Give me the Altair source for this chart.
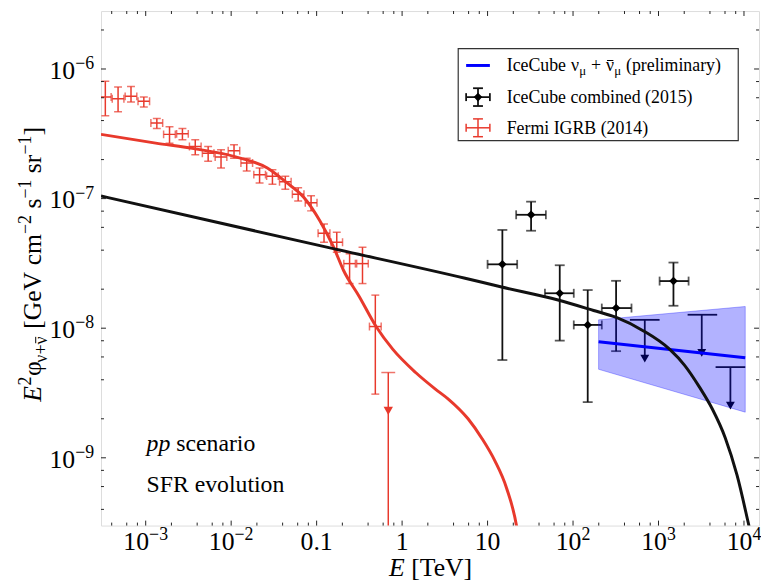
import altair as alt
import pandas as pd

# ---------------- data ----------------
# Fermi IGRB (2014)
fermi_e = [3.37e-4, 4.75e-4, 6.73e-4, 9.51e-4, 1.35e-3, 1.90e-3, 2.69e-3, 3.80e-3, 5.38e-3, 7.61e-3,
           1.08e-2, 1.52e-2, 2.15e-2, 3.04e-2, 4.30e-2, 6.08e-2, 8.61e-2, 0.122, 0.172, 0.243, 0.344, 0.486]
fermi_elo = [2.88e-4, 4.06e-4, 5.75e-4, 8.13e-4, 1.15e-3, 1.62e-3, 2.30e-3, 3.25e-3, 4.60e-3, 6.50e-3,
             9.23e-3, 1.30e-2, 1.84e-2, 2.60e-2, 3.68e-2, 5.20e-2, 7.36e-2, 0.104, 0.147, 0.208, 0.294, 0.415]
fermi_ehi = [3.94e-4, 5.56e-4, 7.87e-4, 1.11e-3, 1.58e-3, 2.22e-3, 3.15e-3, 4.45e-3, 6.29e-3, 8.90e-3,
             1.26e-2, 1.78e-2, 2.52e-2, 3.56e-2, 5.03e-2, 7.11e-2, 0.101, 0.143, 0.201, 0.284, 0.402, 0.569]
fermi_y = [6.08e-7, 5.90e-7, 6.15e-7, 5.64e-7, 3.83e-7, 3.13e-7, 3.16e-7, 2.52e-7, 2.24e-7, 2.09e-7,
           2.34e-7, 1.88e-7, 1.53e-7, 1.49e-7, 1.35e-7, 1.08e-7, 9.3e-8, 5.40e-8, 4.60e-8, 3.15e-8, 3.15e-8, 1.03e-8]
fermi_ylo = [4.35e-7, 4.67e-7, 5.57e-7, 5.09e-7, 3.48e-7, 2.67e-7, 2.84e-7, 2.18e-7, 1.94e-7, 1.72e-7,
             2.05e-7, 1.63e-7, 1.32e-7, 1.29e-7, 1.18e-7, 9.6e-8, 8.04e-8, 4.60e-8, 3.86e-8, 2.21e-8, 2.21e-8, 3.10e-9]
fermi_yhi = [8.05e-7, 7.25e-7, 7.34e-7, 6.08e-7, 4.15e-7, 3.59e-7, 3.48e-7, 2.84e-7, 2.52e-7, 2.38e-7,
             2.60e-7, 2.05e-7, 1.72e-7, 1.67e-7, 1.49e-7, 1.21e-7, 1.05e-7, 6.37e-8, 5.50e-8, 3.75e-8, 4.22e-8, 1.80e-8]
fermi_ul_e = [0.689]
fermi_ul_y = [4.55e-9]
fermi_ul_arrow = [2.3e-9]
fermi_ul_end = [1.0e-10]

# IceCube combined (2015)
ic_e = [14.9, 32.3, 69.9, 148.5, 319, 1496]
ic_elo = [10.0, 21.6, 46.9, 102, 217, 1030]
ic_ehi = [22.2, 48.1, 102, 217, 483, 2249]
ic_y = [3.11e-8, 7.50e-8, 1.86e-8, 1.06e-8, 1.43e-8, 2.31e-8]
ic_ylo = [5.68e-9, 5.65e-8, 8.02e-9, 2.69e-9, 6.65e-9, 1.49e-8]
ic_yhi = [5.73e-8, 9.47e-8, 3.06e-8, 1.97e-8, 2.32e-8, 3.21e-8]
ic_ul_e = [691, 3206, 6937]
ic_ul_elo = [463, 2190, 4655]
ic_ul_ehi = [1030, 4860, 10350]
ic_ul_y = [1.16e-8, 1.27e-8, 5.01e-9]
ic_ul_arrow = [5.82e-9, 6.46e-9, 2.53e-9]

# IceCube numu + numubar (preliminary)
nu_e = [199, 10350]
nu_lo = [4.82e-9, 2.25e-9]
nu_hi = [1.16e-8, 1.47e-8]
nu_best = [7.85e-9, 5.92e-9]

# model curves
red_e = [3.0e-4, 1.31e-3, 3.79e-3, 1.10e-2, 2.65e-2, 4.51e-2, 7.10e-2, 0.109, 0.158, 0.206, 0.316,
         0.496, 0.780, 1.44, 2.45, 3.47, 5.91, 8.59, 12.1, 16.7, 21.8, 23.0]
red_y = [3.13e-7, 2.68e-7, 2.42e-7, 2.11e-7, 1.72e-7, 1.32e-7, 1.02e-7, 6.75e-8, 4.22e-8, 2.80e-8, 1.75e-8,
         1.03e-8, 6.86e-9, 4.55e-9, 3.39e-9, 2.84e-9, 2.00e-9, 1.41e-9, 9.55e-10, 5.83e-10, 2.99e-10, 2.4e-10]
black_e = [3.0e-4, 0.131, 5.46, 14.6, 66.8, 174, 321, 660, 1355, 2022, 3016, 4263, 6030, 8297, 11430, 12000]
black_y = [1.047e-7, 4.22e-8, 2.43e-8, 2.08e-8, 1.65e-8, 1.37e-8, 1.21e-8, 9.57e-9, 6.86e-9, 5.17e-9,
           3.51e-9, 2.38e-9, 1.43e-9, 7.34e-10, 2.99e-10, 2.6e-10]

# tick labels
x_major = [1e-3, 1e-2, 1e-1, 1, 10, 1e2, 1e3, 1e4]
x_neg_vals, x_neg_exp = [1e-3, 1e-2], ["−3", "−2"]
x_pos_vals, x_pos_exp = [1e2, 1e3, 1e4], ["2", "3", "4"]
x_plain_vals, x_plain_lab = [0.1, 1, 10], ["0.1", "1", "10"]
y_major = [1e-9, 1e-8, 1e-7, 1e-6]
y_exp = ["−9", "−8", "−7", "−6"]

# ---------------- styling ----------------
W, H = 665, 520
X_DOMAIN = [3.0e-4, 1.5e4]
Y_DOMAIN = [3.0e-10, 2.8e-6]
FONT = "Liberation Serif"
RED = "#e8392c"
BLACK = "#111111"
BLUE = "#0000ff"
FRAME = "#222222"
FS, SS = 26, 18          # main / script font sizes for tick labels and titles

# approximate Times advance widths (em) for laying out rich text pieces
TW = {'I': .333, 'c': .444, 'e': .444, 'C': .667, 'u': .5, 'b': .5, 'o': .5, 'm': .778, 'i': .278,
      'n': .5, 'd': .5, '(': .333, ')': .333, 'F': .556, 'r': .333, 'G': .722, 'R': .667, 'B': .667,
      'p': .5, 'l': .278, 'a': .444, 'y': .5, '[': .333, ']': .333, 'V': .722, 'T': .611, 's': .389,
      'E': .611, ' ': .25, '+': .564, '−': .564, 'ν': .47, 'μ': .52, 'φ': .52, '.': .25}


def tw(s, size):
    return sum(TW.get(ch, .5) for ch in s) * size


xs = alt.Scale(type="log", domain=X_DOMAIN, nice=False)
ys = alt.Scale(type="log", domain=Y_DOMAIN, nice=False)


def X(f):
    return alt.X(f"{f}:Q", scale=xs, axis=None)


def Y(f):
    return alt.Y(f"{f}:Q", scale=ys, axis=None)


layers = []

# ---- Fermi points
fdf = pd.DataFrame({"e": fermi_e, "elo": fermi_elo, "ehi": fermi_ehi,
                    "y": fermi_y, "ylo": fermi_ylo, "yhi": fermi_yhi})
fb = alt.Chart(fdf)
layers += [
    fb.mark_rule(color=RED, strokeWidth=1.5, clip=True).encode(x=X("e"), y=Y("ylo"), y2="yhi"),
    fb.mark_rule(color=RED, strokeWidth=1.5, clip=True).encode(x=X("elo"), x2="ehi", y=Y("y")),
    fb.mark_tick(color=RED, orient="horizontal", size=8, thickness=1.5, clip=True).encode(x=X("e"), y=Y("ylo")),
    fb.mark_tick(color=RED, orient="horizontal", size=8, thickness=1.5, clip=True).encode(x=X("e"), y=Y("yhi")),
    fb.mark_tick(color=RED, orient="vertical", size=8, thickness=1.5, clip=True).encode(x=X("elo"), y=Y("y")),
    fb.mark_tick(color=RED, orient="vertical", size=8, thickness=1.5, clip=True).encode(x=X("ehi"), y=Y("y")),
]
fudf = pd.DataFrame({"e": fermi_ul_e, "y": fermi_ul_y, "a": fermi_ul_arrow, "end": fermi_ul_end})
fu = alt.Chart(fudf)
layers += [
    fu.mark_rule(color=RED, strokeWidth=1.5, clip=True).encode(x=X("e"), y=Y("y"), y2="end"),
    fu.mark_tick(color=RED, orient="horizontal", size=14, thickness=1.5).encode(x=X("e"), y=Y("y")),
    fu.mark_point(shape="triangle-down", filled=True, color=RED, opacity=1, size=90).encode(x=X("e"), y=Y("a")),
]

# ---- red model curve
layers.append(
    alt.Chart(pd.DataFrame({"e": red_e, "y": red_y})).mark_line(
        color=RED, strokeWidth=3, clip=True, interpolate="monotone").encode(x=X("e"), y=Y("y"))
)

# ---- IceCube combined points
idf = pd.DataFrame({"e": ic_e, "elo": ic_elo, "ehi": ic_ehi, "y": ic_y, "ylo": ic_ylo, "yhi": ic_yhi})
ib = alt.Chart(idf)
layers += [
    ib.mark_rule(color=BLACK, strokeWidth=1.8).encode(x=X("e"), y=Y("ylo"), y2="yhi"),
    ib.mark_rule(color=BLACK, strokeWidth=1.8).encode(x=X("elo"), x2="ehi", y=Y("y")),
    ib.mark_tick(color=BLACK, orient="horizontal", size=10, thickness=1.8).encode(x=X("e"), y=Y("ylo")),
    ib.mark_tick(color=BLACK, orient="horizontal", size=10, thickness=1.8).encode(x=X("e"), y=Y("yhi")),
    ib.mark_tick(color=BLACK, orient="vertical", size=9, thickness=1.8).encode(x=X("elo"), y=Y("y")),
    ib.mark_tick(color=BLACK, orient="vertical", size=9, thickness=1.8).encode(x=X("ehi"), y=Y("y")),
    ib.mark_point(shape="diamond", filled=True, color="black", opacity=1, size=75).encode(x=X("e"), y=Y("y")),
]
iudf = pd.DataFrame({"e": ic_ul_e, "elo": ic_ul_elo, "ehi": ic_ul_ehi, "y": ic_ul_y, "a": ic_ul_arrow})
iu = alt.Chart(iudf)
layers += [
    iu.mark_rule(color=BLACK, strokeWidth=1.8).encode(x=X("elo"), x2="ehi", y=Y("y")),
    iu.mark_rule(color=BLACK, strokeWidth=1.8).encode(x=X("e"), y=Y("y"), y2="a"),
    iu.mark_point(shape="triangle-down", filled=True, color="black", opacity=1, size=80).encode(x=X("e"), y=Y("a")),
]

# ---- IceCube numu band & best fit
ndf = pd.DataFrame({"e": nu_e, "lo": nu_lo, "hi": nu_hi, "best": nu_best})
layers += [
    alt.Chart(ndf).mark_area(color=BLUE, fillOpacity=0.3, stroke=BLUE, strokeOpacity=0.3, strokeWidth=1).encode(
        x=X("e"), y=Y("lo"), y2="hi"),
    alt.Chart(ndf).mark_line(color=BLUE, strokeWidth=3).encode(x=X("e"), y=Y("best")),
]

# ---- black model curve
layers.append(
    alt.Chart(pd.DataFrame({"e": black_e, "y": black_y})).mark_line(
        color=BLACK, strokeWidth=3, clip=True, interpolate="monotone").encode(x=X("e"), y=Y("y"))
)

# ---- inward ticks on all four sides
x_minor = [m * 10.0 ** d for d in range(-4, 5) for m in (2, 4, 6, 8)
           if X_DOMAIN[0] < m * 10.0 ** d < X_DOMAIN[1]]
y_minor = [m * 10.0 ** d for d in range(-10, -5) for m in (2, 4, 6, 8)
           if Y_DOMAIN[0] < m * 10.0 ** d < Y_DOMAIN[1]]

MAJ, MIN = 5, 3
xmaj = alt.Chart(pd.DataFrame({"v": x_major}))
xmin = alt.Chart(pd.DataFrame({"v": x_minor}))
ymaj = alt.Chart(pd.DataFrame({"v": y_major}))
ymin = alt.Chart(pd.DataFrame({"v": y_minor}))
tk = dict(color=FRAME, strokeWidth=1)
layers += [
    xmaj.mark_rule(**tk).encode(x=X("v"), y=alt.value(H), y2=alt.value(H - MAJ)),
    xmaj.mark_rule(**tk).encode(x=X("v"), y=alt.value(0), y2=alt.value(MAJ)),
    xmin.mark_rule(**tk).encode(x=X("v"), y=alt.value(H), y2=alt.value(H - MIN)),
    xmin.mark_rule(**tk).encode(x=X("v"), y=alt.value(0), y2=alt.value(MIN)),
    ymaj.mark_rule(**tk).encode(y=Y("v"), x=alt.value(0), x2=alt.value(MAJ)),
    ymaj.mark_rule(**tk).encode(y=Y("v"), x=alt.value(W), x2=alt.value(W - MAJ)),
    ymin.mark_rule(**tk).encode(y=Y("v"), x=alt.value(0), x2=alt.value(MIN)),
    ymin.mark_rule(**tk).encode(y=Y("v"), x=alt.value(W), x2=alt.value(W - MIN)),
]

# ---- tick labels (base + raised exponent)
lab = dict(font=FONT, color="black", baseline="alphabetic")
XB = H + 25              # baseline of x labels
SUP = 10                 # superscript raise
base_w = tw("10", FS)
neg_split = base_w - (base_w + tw("−3", SS)) / 2
pos_split = base_w - (base_w + tw("2", SS)) / 2
xneg = alt.Chart(pd.DataFrame({"v": x_neg_vals, "b": ["10"] * len(x_neg_vals), "s": x_neg_exp}))
xpos = alt.Chart(pd.DataFrame({"v": x_pos_vals, "b": ["10"] * len(x_pos_vals), "s": x_pos_exp}))
xpl = alt.Chart(pd.DataFrame({"v": x_plain_vals, "b": x_plain_lab}))
ylab = alt.Chart(pd.DataFrame({"v": y_major, "b": ["10"] * len(y_major), "s": y_exp}))
YL = -7
layers += [
    xneg.mark_text(align="right", fontSize=FS, dx=neg_split, **lab).encode(x=X("v"), y=alt.value(XB), text="b:N"),
    xneg.mark_text(align="left", fontSize=SS, dx=neg_split, **lab).encode(x=X("v"), y=alt.value(XB - SUP), text="s:N"),
    xpos.mark_text(align="right", fontSize=FS, dx=pos_split, **lab).encode(x=X("v"), y=alt.value(XB), text="b:N"),
    xpos.mark_text(align="left", fontSize=SS, dx=pos_split, **lab).encode(x=X("v"), y=alt.value(XB - SUP), text="s:N"),
    xpl.mark_text(align="center", fontSize=FS, **lab).encode(x=X("v"), y=alt.value(XB), text="b:N"),
    ylab.mark_text(align="right", fontSize=FS, dy=10, **lab).encode(
        x=alt.value(YL - tw("−6", SS)), y=Y("v"), text="b:N"),
    ylab.mark_text(align="right", fontSize=SS, dy=10 - SUP, **lab).encode(x=alt.value(YL), y=Y("v"), text="s:N"),
]

one = alt.Chart(pd.DataFrame({"a": [0]}))


def hpieces(pieces, x0, y0):
    """pieces: (text, size, italic, baseline shift, extra gap after)"""
    out, x = [], x0
    for text, size, italic, shift, gap in pieces:
        out.append(one.mark_text(text=text, fontSize=size, fontStyle="italic" if italic else "normal",
                                 align="left", **lab).encode(x=alt.value(x), y=alt.value(y0 + shift)))
        x += tw(text, size) + gap
    return out, x


def vpieces(pieces, x0, y0):
    out, p = [], 0.0
    marks = []
    for text, size, italic, shift, gap in pieces:
        out.append(one.mark_text(text=text, fontSize=size, fontStyle="italic" if italic else "normal",
                                 align="left", angle=270, **lab).encode(
            x=alt.value(x0 + shift), y=alt.value(y0 - p)))
        marks.append(p)
        p += tw(text, size) + gap
    return out, marks, p


# ---- x title
xt, xend = hpieces([("E", FS, True, 0, 6.5), ("[TeV]", FS, False, 0, 0)], 0, 0)
xt_w = xend
layers += hpieces([("E", FS, True, 0, 6.5), ("[TeV]", FS, False, 0, 0)], 334 - xt_w / 2, 571)[0]

# ---- y title
ypieces = [("E", FS, True, 0, 0.5), ("2", SS, False, -SUP, 0.5), ("φ", FS, False, 0, 0),
           ("ν+ν", SS, False, 6, 7), ("[GeV", FS, False, 0, 6.5), ("cm", FS, False, 0, 0),
           ("−2", SS, False, -SUP, 6.5), ("s", FS, False, 0, 0), ("−1", SS, False, -SUP, 6.5),
           ("sr", FS, False, 0, 0), ("−1", SS, False, -SUP, 0), ("]", FS, False, 0, 0)]
_, _, ylen = vpieces(ypieces, 0, 0)
YT_X = -61
YT_Y0 = 256 + ylen / 2
yt_layers, ypos, _ = vpieces(ypieces, YT_X, YT_Y0)
layers += yt_layers
# bar over the second nu of the subscript
nu2 = ypos[3] + tw("ν+", SS)
layers.append(one.mark_rule(color="black", strokeWidth=1).encode(
    x=alt.value(YT_X + 6 - 11), y=alt.value(YT_Y0 - nu2 - 1), y2=alt.value(YT_Y0 - nu2 - tw("ν", SS) + 1)))

# ---- legend (drawn by hand)
LX0, LX1, LY0, LY1 = 361, 644, 38, 131
SX, SL, SR = 381, 369, 393
R1, R2, R3 = 55, 87, 118
TX = 410
LF, LS = 18, 13
layers += [
    one.mark_rect(fill="white", stroke="#333333", strokeWidth=1.2).encode(
        x=alt.value(LX0), x2=alt.value(LX1), y=alt.value(LY0), y2=alt.value(LY1)),
    one.mark_rule(color=BLUE, strokeWidth=3).encode(x=alt.value(SL), x2=alt.value(SR), y=alt.value(R1)),
    # black symbol
    one.mark_rule(color=BLACK, strokeWidth=1.8).encode(x=alt.value(SL), x2=alt.value(SR), y=alt.value(R2)),
    one.mark_rule(color=BLACK, strokeWidth=1.8).encode(x=alt.value(SX), y=alt.value(R2 - 9), y2=alt.value(R2 + 9)),
    one.mark_rule(color=BLACK, strokeWidth=1.8).encode(x=alt.value(SX - 5), x2=alt.value(SX + 5), y=alt.value(R2 - 9)),
    one.mark_rule(color=BLACK, strokeWidth=1.8).encode(x=alt.value(SX - 5), x2=alt.value(SX + 5), y=alt.value(R2 + 9)),
    one.mark_rule(color=BLACK, strokeWidth=1.8).encode(x=alt.value(SL), y=alt.value(R2 - 4), y2=alt.value(R2 + 4)),
    one.mark_rule(color=BLACK, strokeWidth=1.8).encode(x=alt.value(SR), y=alt.value(R2 - 4), y2=alt.value(R2 + 4)),
    one.mark_point(shape="diamond", filled=True, color="black", opacity=1, size=75).encode(
        x=alt.value(SX), y=alt.value(R2)),
    # red symbol
    one.mark_rule(color=RED, strokeWidth=1.5).encode(x=alt.value(SL), x2=alt.value(SR), y=alt.value(R3)),
    one.mark_rule(color=RED, strokeWidth=1.5).encode(x=alt.value(SX), y=alt.value(R3 - 9), y2=alt.value(R3 + 9)),
    one.mark_rule(color=RED, strokeWidth=1.5).encode(x=alt.value(SX - 5), x2=alt.value(SX + 5), y=alt.value(R3 - 9)),
    one.mark_rule(color=RED, strokeWidth=1.5).encode(x=alt.value(SX - 5), x2=alt.value(SX + 5), y=alt.value(R3 + 9)),
    one.mark_rule(color=RED, strokeWidth=1.5).encode(x=alt.value(SL), y=alt.value(R3 - 4), y2=alt.value(R3 + 4)),
    one.mark_rule(color=RED, strokeWidth=1.5).encode(x=alt.value(SR), y=alt.value(R3 - 4), y2=alt.value(R3 + 4)),
]
row1 = [("IceCube", LF, False, 0, 5), ("ν", LF, False, 0, 0), ("μ", LS, False, 4, 5),
        ("+", LF, False, 0, 5), ("ν", LF, False, 0, 0), ("μ", LS, False, 4, 5),
        ("(preliminary)", LF, False, 0, 0)]
r1_layers, _ = hpieces(row1, TX, R1 + 6)
layers += r1_layers
nu_bar_x = TX + tw("IceCube", LF) + 5 + tw("ν", LF) + tw("μ", LS) + 5 + tw("+", LF) + 5
layers.append(one.mark_rule(color="black", strokeWidth=1).encode(
    x=alt.value(nu_bar_x + 1), x2=alt.value(nu_bar_x + tw("ν", LF) - 1), y=alt.value(R1 - 5)))
layers += hpieces([("IceCube combined (2015)", LF, False, 0, 0)], TX, R2 + 6)[0]
layers += hpieces([("Fermi IGRB (2014)", LF, False, 0, 0)], TX, R3 + 6)[0]

# ---- annotation
ann = dict(font=FONT, fontSize=24, color="black", align="left", baseline="alphabetic")
layers += [
    one.mark_text(text="pp", fontStyle="italic", **ann).encode(x=alt.value(46), y=alt.value(445)),
    one.mark_text(text="scenario", **ann).encode(x=alt.value(76), y=alt.value(445)),
    one.mark_text(text="SFR evolution", **ann).encode(x=alt.value(46), y=alt.value(486)),
]

chart = alt.layer(*layers).properties(
    width=W, height=H,
    autosize=alt.AutoSizeParams(type="none"),
    padding={"left": 94, "top": 0, "right": 2, "bottom": 58},
).configure_view(stroke=FRAME, strokeWidth=1.3).configure(background="white")

chart.save("out.html", embed_options={"renderer": "svg", "actions": False})
